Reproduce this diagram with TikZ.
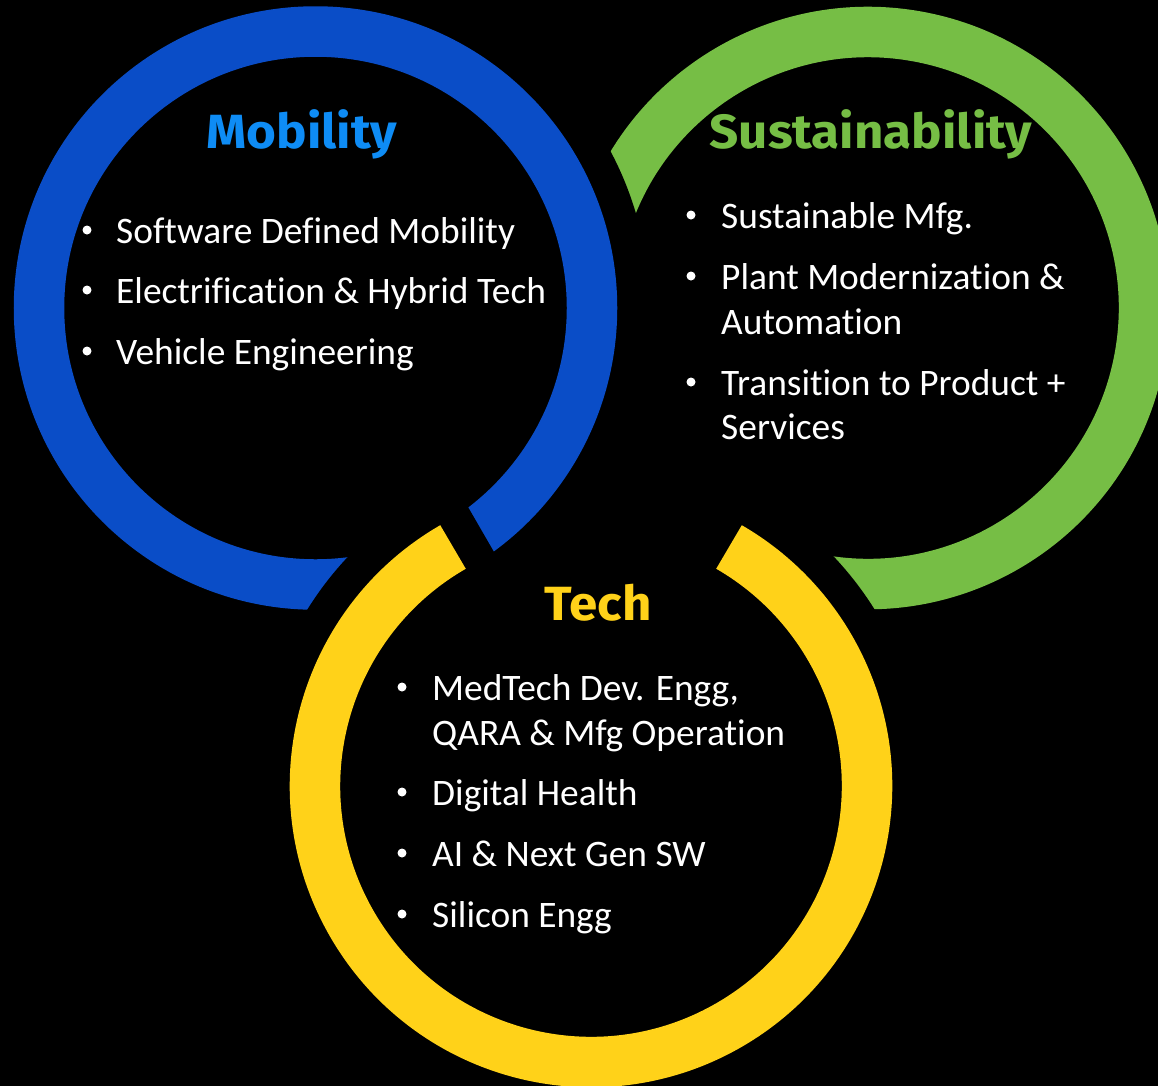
\documentclass[tikz,border=0pt]{standalone}
\usepackage{fontspec}
\setmainfont{Carlito}[Ligatures=NoCommon]
\newfontfamily\titlefont{Fira Sans}[FakeStretch=1.065, BoldFeatures={FakeStretch=1.065}]
\definecolor{ringblue}{HTML}{0A4DC7}
\definecolor{ringgreen}{HTML}{76BE45}
\definecolor{ringyellow}{HTML}{FFD219}
\definecolor{titleblue}{HTML}{0E8CF5}
\definecolor{titlegreen}{HTML}{76BE45}
\definecolor{titleyellow}{HTML}{FFD219}
\tikzset{
  ringline/.style={line width=50.5pt},
  itemtext/.style={text=white, font=\fontsize{37.4}{44}\selectfont, anchor=base west, inner sep=0pt},
  bulletmark/.style={circle, fill=white, minimum size=9pt, inner sep=0pt},
  titletext/.style={font=\titlefont\bfseries\fontsize{48}{56}\selectfont, anchor=base, inner sep=0pt}
}
\begin{document}
\begin{tikzpicture}[x=1pt,y=1pt]
\useasboundingbox (0,0) rectangle (1158,-1085);
\fill[black] (-20,20) rectangle (1178,-1105);
\coordinate (cb) at (315.5,-308);
\coordinate (cg) at (868,-308);
\coordinate (cy) at (591,-786);
% green ring
\draw[ringgreen, ringline] (cg) ++(-100:276) arc[start angle=-100, end angle=165, radius=276];
\fill[black] (cb) circle[radius=334];
\fill[black] (cy) circle[radius=334];
% blue ring
\draw[ringblue, ringline] (cb) circle[radius=276.5];
\begin{scope}[shift={(cy)}, rotate=120]
  \clip (0,0) circle[radius=334];
  \fill[black] (-400,-33) rectangle (400,400);
\end{scope}
% yellow ring
\draw[ringyellow, ringline] (cy) ++(120:276) arc[start angle=120, end angle=420, radius=276];
% titles
\node[titletext, text=titleblue] (tmob) at (302,-148) {Mobility};
\node[titletext, text=titlegreen] (tsus) at (871,-148) {Sustainability};
\node[titletext, text=titleyellow] (ttech) at (598,-620) {Tech};
% mobility items
\node[bulletmark] (bm1) at (87,-230) {};
\node[itemtext] (m1) at (116,-243) {Software Defined Mobility};
\node[bulletmark] (bm2) at (87,-290) {};
\node[itemtext] (m2) at (116,-303) {Electrification \& Hybrid Tech};
\node[bulletmark] (bm3) at (87,-351) {};
\node[itemtext] (m3) at (116,-364) {Vehicle Engineering};
% sustainability items
\node[bulletmark] (bs1) at (691,-215) {};
\node[itemtext] (s1) at (721,-228) {Sustainable Mfg.};
\node[bulletmark] (bs2) at (691,-276) {};
\node[itemtext] (s2) at (721,-289) {Plant Modernization \&};
\node[itemtext] (s2b) at (721,-334) {Automation};
\node[bulletmark] (bs3) at (691,-382) {};
\node[itemtext] (s3) at (721,-395) {Transition to Product +};
\node[itemtext] (s3b) at (721,-439) {Services};
% tech items
\node[bulletmark] (bt1) at (402,-687) {};
\node[itemtext] (t1) at (432,-700) {MedTech Dev. Engg,};
\node[itemtext] (t1b) at (432,-745) {QARA \& Mfg Operation};
\node[bulletmark] (bt2) at (402,-792) {};
\node[itemtext] (t2) at (432,-805) {Digital Health};
\node[bulletmark] (bt3) at (402,-853) {};
\node[itemtext] (t3) at (432,-866) {AI \& Next Gen SW};
\node[bulletmark] (bt4) at (402,-914) {};
\node[itemtext] (t4) at (432,-927) {Silicon Engg};
\end{tikzpicture}
\end{document}
